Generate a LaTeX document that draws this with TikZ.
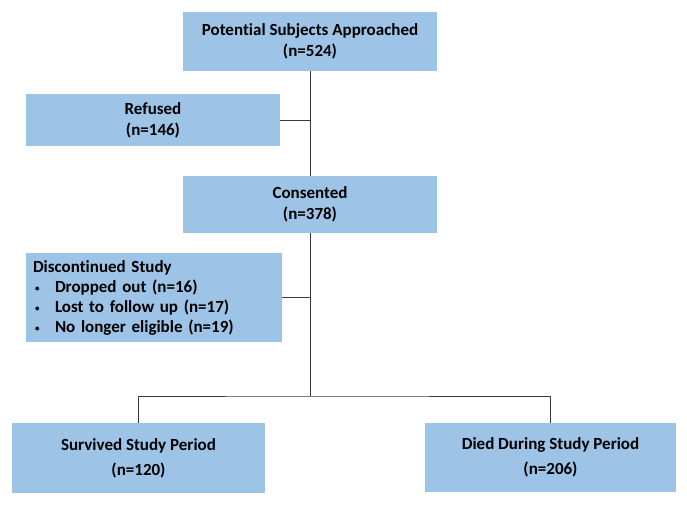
\documentclass[tikz,border=0pt]{standalone}
\usepackage{fontspec}
\setmainfont[Ligatures=NoCommon]{Carlito}
\usetikzlibrary{positioning}
\definecolor{boxblue}{HTML}{9DC3E6}
\definecolor{linegray}{HTML}{3A3A3A}

\begin{document}
\begin{tikzpicture}[x=1pt, y=-1pt,
  box/.style={fill=boxblue, inner sep=0pt, align=center,
    font=\bfseries\fontsize{17}{21}\selectfont},
  link/.style={draw=linegray, line width=1pt}]
  \useasboundingbox (0,0) rectangle (687,506);
  % boxes
  \node[box, minimum width=254pt, minimum height=59pt] (approached) at (310,41.5)
    {Potential Subjects Approached\\(n=524)};
  \node[box, minimum width=254pt, minimum height=52pt] (refused) at (153,120)
    {Refused\\(n=146)};
  \node[box, minimum width=254pt, minimum height=57pt] (consented) at (310,204.5)
    {Consented\\(n=378)};
  \node[box, align=left, text width=242pt, inner xsep=7pt, minimum height=89pt,
    font=\bfseries\fontsize{17}{20}\selectfont] (discontinued) at (154,297.5)
    {Discontinued Study\\
     \makebox[22pt][l]{\hspace{2pt}\raisebox{1pt}{\fontsize{9}{9}\selectfont\textbullet}}Dropped out (n=16)\\
     \makebox[22pt][l]{\hspace{2pt}\raisebox{1pt}{\fontsize{9}{9}\selectfont\textbullet}}Lost to follow up (n=17)\\
     \makebox[22pt][l]{\hspace{2pt}\raisebox{1pt}{\fontsize{9}{9}\selectfont\textbullet}}No longer eligible (n=19)};
  \node[box, minimum width=253pt, minimum height=70pt,
    font=\bfseries\fontsize{17}{25}\selectfont] (survived) at (138.5,458)
    {Survived Study Period\\(n=120)};
  \node[box, minimum width=251pt, minimum height=69pt,
    font=\bfseries\fontsize{17}{25}\selectfont] (died) at (550.5,457.5)
    {Died During Study Period\\(n=206)};
  % connectors
  \coordinate (split) at (310,396);
  \draw[link] (approached.south) -- (consented.north);
  \draw[link] (refused.east) -- (refused.east -| approached.south);
  \draw[link] (consented.south) -- (split);
  \draw[link] (discontinued.east) -- (discontinued.east -| consented.south);
  \draw[link] (survived.north) |- (split) -| (died.north);
\end{tikzpicture}
\end{document}
